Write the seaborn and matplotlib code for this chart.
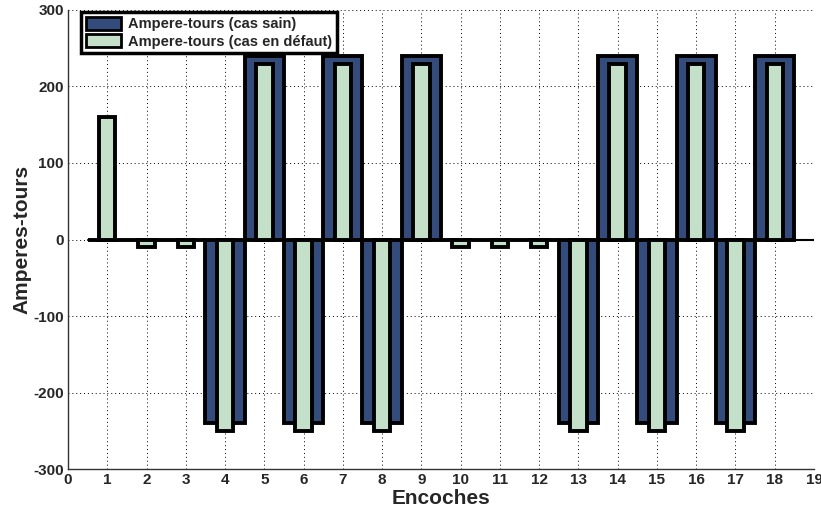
import numpy as np
import pandas as pd
import matplotlib
matplotlib.use("Agg")
import matplotlib.pyplot as plt
import seaborn as sns
from matplotlib.patches import Patch

encoches = list(range(1, 19))
sain = [0, 0, 0, -240, 240, -240, 240, -240, 240, 0, 0, 0, -240, 240, -240, 240, -240, 240]
defaut = [160, -10, -10, -250, 230, -250, 230, -250, 230, -10, -10, -10, -250, 230, -250, 230, -250, 230]
label_sain = "Ampere-tours (cas sain)"
label_defaut = "Ampere-tours (cas en défaut)"

sns.set_style("white")
plt.rcParams['font.family'] = ['Liberation Sans', 'DejaVu Sans']
plt.rcParams['axes.unicode_minus'] = False

fig = plt.figure(figsize=(8.21, 5.15), dpi=100)
ax = fig.add_axes([0.0828, 0.0893, 0.9087, 0.8913])

c_sain = '#344c7c'
c_def = '#c5e0c8'

df = pd.DataFrame({'x': encoches, 'sain': sain, 'defaut': defaut})
sns.barplot(data=df, x='x', y='sain', native_scale=True, width=1.0, color=c_sain,
            saturation=1, edgecolor='black', linewidth=2.8, ax=ax, zorder=3)
sns.barplot(data=df, x='x', y='defaut', native_scale=True, width=0.42, color=c_def,
            saturation=1, edgecolor='black', linewidth=2.8, ax=ax, zorder=4)

ax.set_xlim(0, 19)
ax.set_ylim(-300, 300)
ax.set_xticks(range(0, 20))
ax.set_yticks(range(-300, 301, 100))
ax.axhline(0, xmin=0.5 / 19, xmax=1, color='black', linewidth=1.5, zorder=5)

ax.grid(True, linestyle=(0, (1, 3)), color='black', linewidth=0.7)
ax.set_axisbelow(True)
for s in ['top', 'right']:
    ax.spines[s].set_visible(False)
for s in ['left', 'bottom']:
    ax.spines[s].set_color('#333333')
    ax.spines[s].set_linewidth(1.0)
ax.tick_params(direction='in', length=4, width=0.8, labelsize=11, pad=3)
for lab in ax.get_xticklabels() + ax.get_yticklabels():
    lab.set_fontweight('bold')

ax.set_xlabel('Encoches', fontsize=15, fontweight='bold', labelpad=1)
ax.set_ylabel('Amperes-tours', fontsize=15, fontweight='bold', labelpad=1)

handles = [Patch(facecolor=c_sain, edgecolor='black', linewidth=2.0, label=label_sain),
           Patch(facecolor=c_def, edgecolor='black', linewidth=2.0, label=label_defaut)]
leg = ax.legend(handles=handles, loc='upper left', bbox_to_anchor=(0.018, 0.995),
                prop={'weight': 'bold', 'size': 10.5}, fancybox=False, framealpha=1,
                edgecolor='black', borderpad=0.3, handlelength=2.4, handleheight=1.0,
                labelspacing=0.2, handletextpad=0.5, borderaxespad=0.0)
leg.get_frame().set_linewidth(2.5)
leg.set_zorder(10)

fig.savefig('out.png', dpi=100)
